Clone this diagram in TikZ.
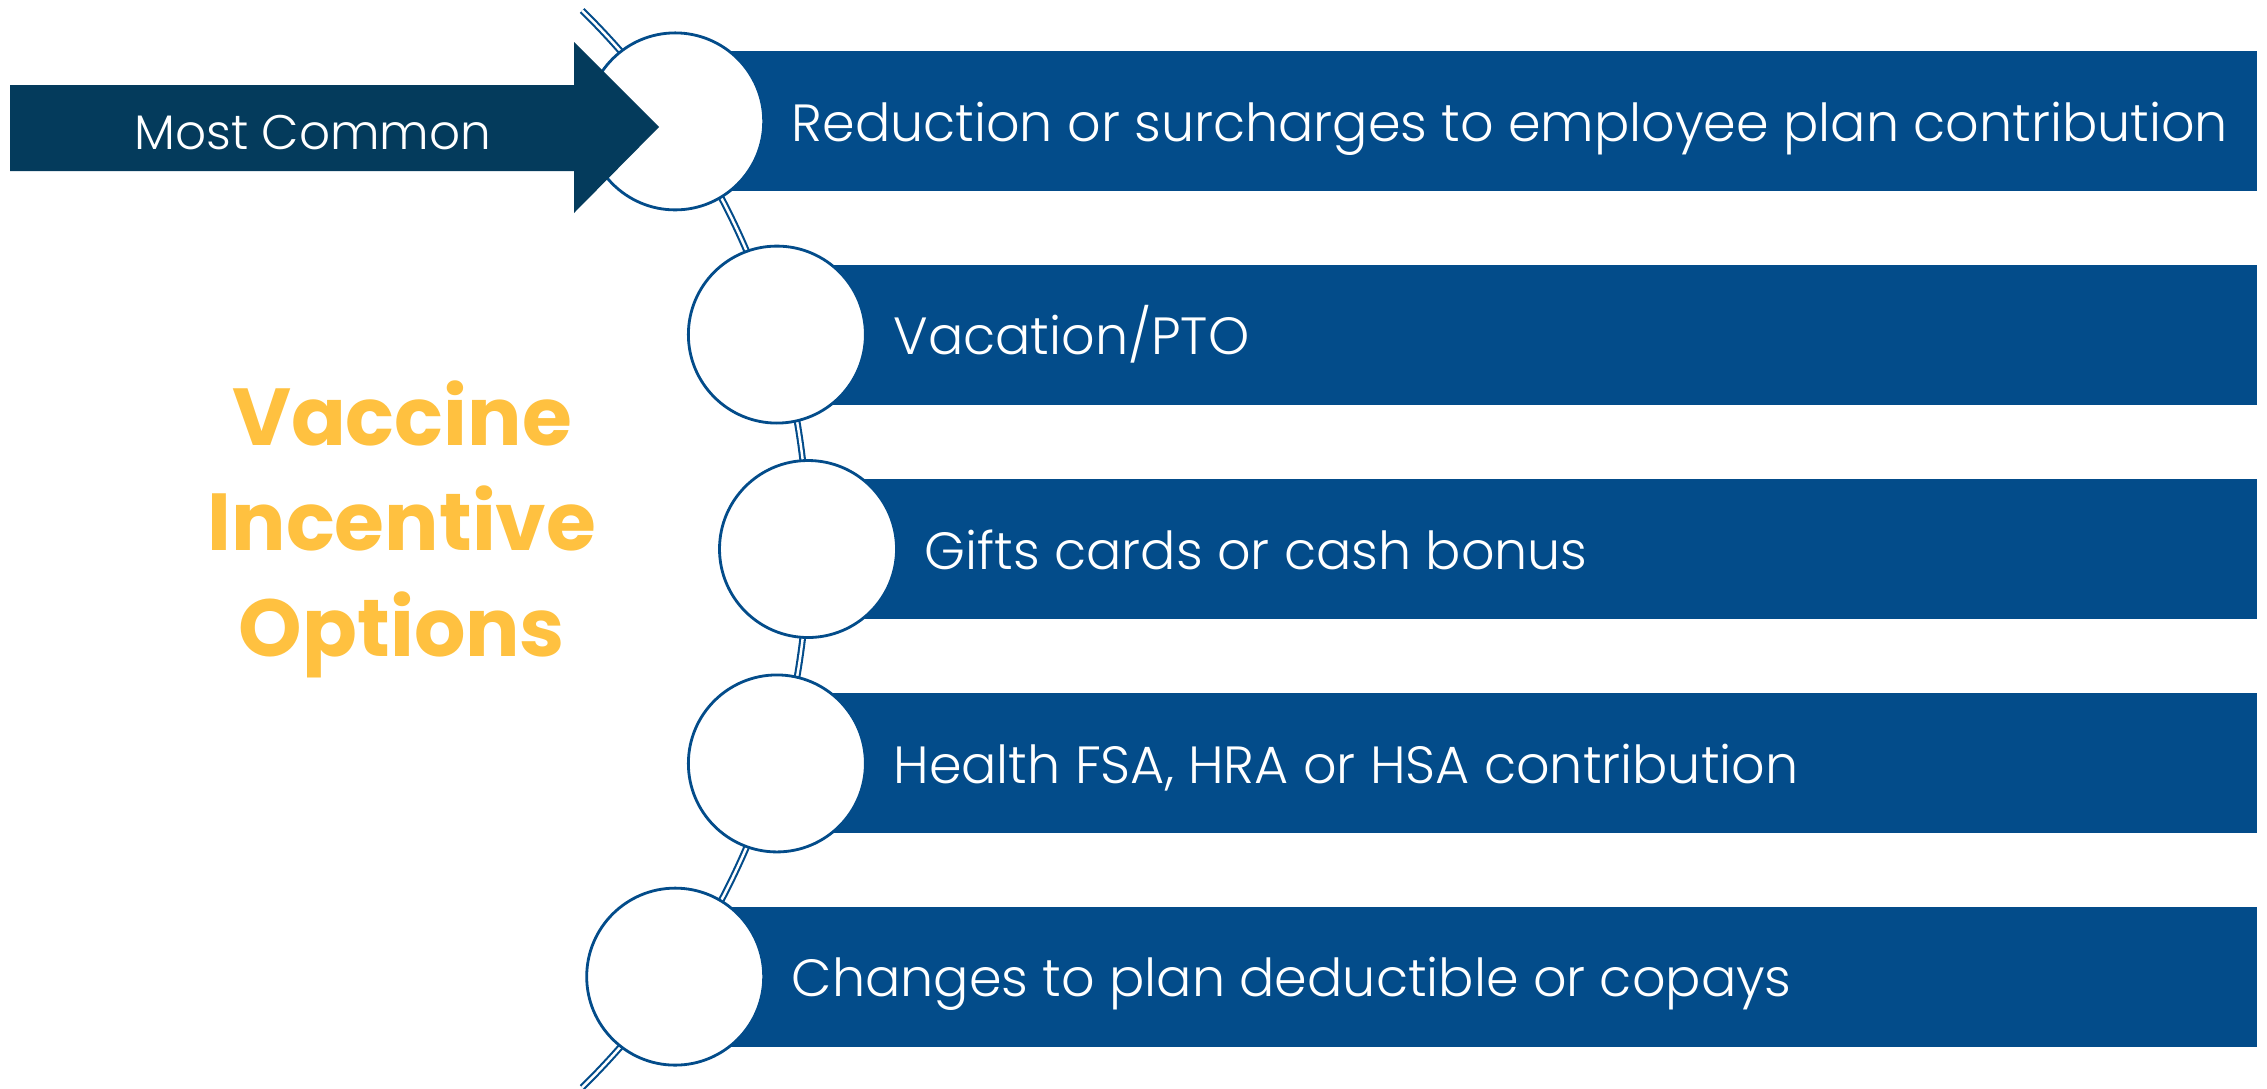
\documentclass[tikz,border=0pt]{standalone}
\usepackage{fontspec}
\setmainfont{Poppins}
\newfontfamily\barfont{Poppins Light}
\usetikzlibrary{positioning,calc}
\definecolor{barblue}{RGB}{3,76,138}
\definecolor{arrowblue}{RGB}{4,59,92}
\definecolor{gold}{RGB}{255,193,64}
\tikzstyle{line} = [draw=barblue, line width=.6pt, double=white, double distance=.7pt]

\begin{document}
\begin{tikzpicture}[
    dot/.style={
      circle,
      draw=barblue,
      line width=.8pt,
      fill=white,
      minimum size=1.77cm,
      inner sep=0
    },
    bar/.style={
      fill=barblue
    },
    bartext/.style={
      text=white,
      font=\barfont\fontsize{14.9}{17}\selectfont,
      text height=.4cm,
      text depth=0pt,
      inner sep=0
    },
    title/.style={
      text=gold,
      font=\bfseries\fontsize{23}{30}\selectfont,
      align=center
    }
  ]

  \useasboundingbox (0,0) rectangle (22.67,-10.88);
  \coordinate (hub) at (0.53,-5.49);
  \coordinate (edge) at (22.57,0);

  \draw[line] (hub) ++(45.5:7.55) arc[start angle=45.5, end angle=-45.5, radius=7.55];

  \foreach \ang/\i/\txt in {34.5/1/Reduction or surcharges to employee plan contribution,
      16.5/2/{Vacation/PTO},
      0/3/Gifts cards or cash bonus,
      -16.5/4/{Health FSA, HRA or HSA contribution},
      -34.5/5/Changes to plan deductible or copays} {
    \path (hub) ++(\ang:7.55) coordinate (p\i);
    \fill[bar] ($(p\i)+(0,.7)$) rectangle ($(p\i -| edge)+(0,-.7)$);
    \node[dot] (c\i) at (p\i) {};
    \node[bartext,right=.26 of c\i] (t\i) {\txt};
  }

  % most common arrow
  \fill[arrowblue] (0.10,-0.85) -- (5.74,-0.85) -- (5.74,-0.42) -- (6.59,-1.27)
    -- (5.74,-2.13) -- (5.74,-1.71) -- (0.10,-1.71) -- cycle;
  \node[bartext,font=\barfont\fontsize{13.8}{17}\selectfont] (common) at (3.13,-1.29) {Most Common};

  \node[title] (title) at (4.02,-5.29) {Vaccine\\Incentive\\Options};

\end{tikzpicture}
\end{document}
